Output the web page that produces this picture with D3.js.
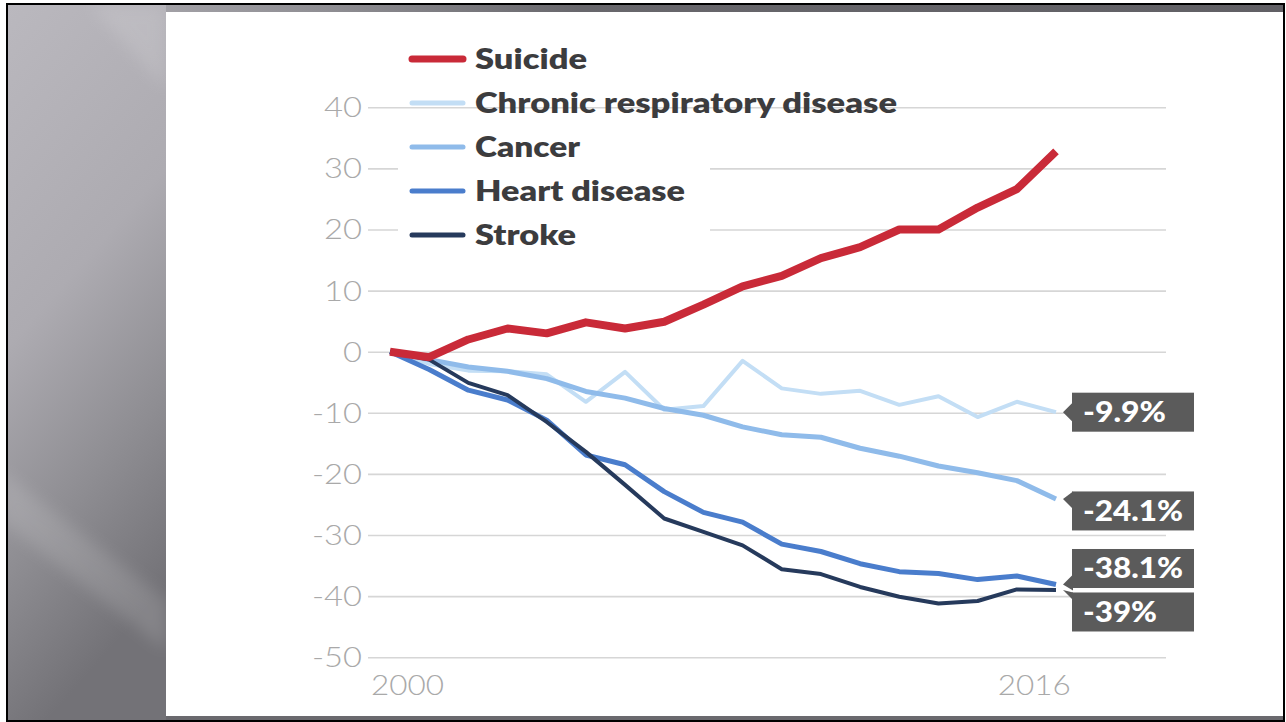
<!DOCTYPE html>
<html>
<head>
<meta charset="utf-8">
<script src="https://cdn.jsdelivr.net/npm/d3@7"></script>
<style>
  html, body { margin: 0; padding: 0; background: #ffffff; }
  svg { display: block; }
</style>
</head>
<body>
<svg id="chart" width="1286" height="722"></svg>
<script>
// Percent change in age-adjusted death rates since 2000
const years = [2000, 2001, 2002, 2003, 2004, 2005, 2006, 2007, 2008,
               2009, 2010, 2011, 2012, 2013, 2014, 2015, 2016, 2017];

const suicide     = [0, -0.9, 2.0, 3.8, 3.0, 4.8, 3.8, 4.9, 7.7, 10.7, 12.4, 15.3, 17.1, 20.0, 20.0, 23.6, 26.6, 32.8];
const respiratory = [0, -2.0, -3.1, -3.2, -3.7, -8.2, -3.3, -9.5, -8.9, -1.5, -6.0, -6.9, -6.4, -8.7, -7.3, -10.7, -8.2, -9.9];
const cancer      = [0, -1.3, -2.5, -3.2, -4.4, -6.5, -7.6, -9.3, -10.4, -12.3, -13.6, -14.0, -15.8, -17.1, -18.7, -19.8, -21.1, -24.1];
const heart       = [0, -2.9, -6.3, -7.9, -11.2, -16.9, -18.5, -22.9, -26.3, -27.9, -31.5, -32.7, -34.7, -36.0, -36.3, -37.3, -36.7, -38.1];
const stroke      = [0, -1.3, -5.1, -7.1, -11.5, -16.4, -21.8, -27.3, -29.5, -31.7, -35.6, -36.4, -38.5, -40.1, -41.2, -40.8, -38.9, -39.0];

const seriesNames = ["Suicide", "Chronic respiratory disease", "Cancer", "Heart disease", "Stroke"];
const yTicks = [40, 30, 20, 10, 0, -10, -20, -30, -40, -50];
const xTicks = [2000, 2016];
const endLabels = ["-9.9%", "-24.1%", "-38.1%", "-39%"];

const series = [
  { name: seriesNames[1], values: respiratory, color: "#c3def5", width: 4 },
  { name: seriesNames[2], values: cancer,      color: "#8fbbea", width: 5 },
  { name: seriesNames[3], values: heart,       color: "#4a7dcc", width: 5 },
  { name: seriesNames[4], values: stroke,      color: "#263a5c", width: 4 },
  { name: seriesNames[0], values: suicide,     color: "#c92a38", width: 8 }
];

const svg = d3.select("#chart");
const defs = svg.append("defs");

// ---- slide frame ----
const sideGrad = defs.append("linearGradient").attr("id", "sideGrad")
  .attr("x1", 0).attr("y1", 0).attr("x2", 0.25).attr("y2", 1);
sideGrad.append("stop").attr("offset", "0%").attr("stop-color", "#bab8be");
sideGrad.append("stop").attr("offset", "45%").attr("stop-color", "#adabb1");
sideGrad.append("stop").attr("offset", "75%").attr("stop-color", "#8e8d92");
sideGrad.append("stop").attr("offset", "100%").attr("stop-color", "#737277");

const topGrad = defs.append("linearGradient").attr("id", "topGrad")
  .attr("x1", 0).attr("y1", 0).attr("x2", 1).attr("y2", 0);
topGrad.append("stop").attr("offset", "0%").attr("stop-color", "#b4b2b8");
topGrad.append("stop").attr("offset", "25%").attr("stop-color", "#8f8e93");
topGrad.append("stop").attr("offset", "45%").attr("stop-color", "#68676c");
topGrad.append("stop").attr("offset", "100%").attr("stop-color", "#616065");

defs.append("filter").attr("id", "soft")
  .append("feGaussianBlur").attr("stdDeviation", 8);

svg.append("rect").attr("x", 6).attr("y", 3).attr("width", 1279).attr("height", 719).attr("fill", "#000");
svg.append("rect").attr("x", 8).attr("y", 5).attr("width", 1275).attr("height", 715).attr("fill", "url(#topGrad)");
svg.append("rect").attr("x", 8).attr("y", 716).attr("width", 1275).attr("height", 4).attr("fill", "#6a696e");

const side = svg.append("g");
side.append("rect").attr("x", 8).attr("y", 5).attr("width", 158).attr("height", 715).attr("fill", "url(#sideGrad)");
const sideClip = defs.append("clipPath").attr("id", "sideClip");
sideClip.append("rect").attr("x", 8).attr("y", 5).attr("width", 158).attr("height", 715);
const sheen = side.append("g").attr("clip-path", "url(#sideClip)");
sheen.append("path").attr("d", "M0,470 L166,600 L166,650 L0,520 Z")
  .attr("fill", "#ffffff").attr("opacity", 0.13).attr("filter", "url(#soft)");
sheen.append("path").attr("d", "M90,5 L166,5 L166,90 Z")
  .attr("fill", "#ffffff").attr("opacity", 0.12).attr("filter", "url(#soft)");

svg.append("rect").attr("x", 166).attr("y", 12).attr("width", 1117).attr("height", 704).attr("fill", "#ffffff");

// ---- scales ----
const x = d3.scaleLinear().domain([2000, 2017]).range([390, 1056]);
const y = d3.scaleLinear().domain([-50, 40]).range([657.2, 107.3]);

const gridLeft = 368, gridRight = 1166;

// widths of the light axis numerals (wide geometric face)
const numeralWidth = s => s.replace("-", "").length * 19 + (s.startsWith("-") ? 12 : 0);

// y axis with full-width gridlines
const yAxis = svg.append("g")
  .attr("transform", `translate(${gridLeft},0)`)
  .call(d3.axisLeft(y).tickValues(yTicks).tickSize(-(gridRight - gridLeft)).tickPadding(6)
        .tickFormat(d => String(d)));
yAxis.select(".domain").remove();
yAxis.selectAll(".tick line").attr("stroke", "#d6d6d6").attr("stroke-width", 1.6);
yAxis.selectAll(".tick text")
  .attr("fill", "#a9a9a9")
  .attr("font-family", "Lato, 'Open Sans', sans-serif")
  .attr("font-weight", 300)
  .attr("font-size", 27)
  .attr("dy", "0.35em")
  .attr("textLength", d => numeralWidth(String(d)))
  .attr("lengthAdjust", "spacingAndGlyphs");

// x axis labels
const xAxis = svg.append("g")
  .attr("transform", `translate(0,${y(-50)})`)
  .call(d3.axisBottom(x).tickValues(xTicks).tickSize(0).tickPadding(19).tickFormat(d => String(d)));
xAxis.select(".domain").remove();
xAxis.selectAll(".tick text")
  .attr("fill", "#a9a9a9")
  .attr("font-family", "Lato, 'Open Sans', sans-serif")
  .attr("font-weight", 300)
  .attr("font-size", 27)
  .attr("dx", 17)
  .attr("textLength", 73)
  .attr("lengthAdjust", "spacingAndGlyphs");

// legend backdrop hides gridlines behind the middle rows
svg.append("rect").attr("x", 398).attr("y", 124).attr("width", 312).attr("height", 120).attr("fill", "#ffffff");

// ---- lines ----
const line = d3.line()
  .x((d, i) => x(years[i]))
  .y(d => y(d));

svg.append("g").selectAll("path")
  .data(series)
  .join("path")
  .attr("d", d => line(d.values))
  .attr("fill", "none")
  .attr("stroke", d => d.color)
  .attr("stroke-width", d => d.width)
  .attr("stroke-linejoin", "round")
  .attr("stroke-linecap", "butt");

// ---- legend ----
const legendOrder = [4, 0, 1, 2, 3]; // Suicide first, then the rest
const legendWidths = [112, 422, 105, 210, 101];
const legend = svg.append("g");
legendOrder.forEach((si, row) => {
  const s = series[si];
  const cy = 59 + row * 44;
  legend.append("line")
    .attr("x1", 412).attr("x2", 463).attr("y1", cy).attr("y2", cy)
    .attr("stroke", s.color).attr("stroke-width", si === 4 ? 7 : 5)
    .attr("stroke-linecap", "round");
  legend.append("text")
    .attr("x", 475).attr("y", cy + 10)
    .attr("fill", "#3c3c3e")
    .attr("font-family", "Lato, 'Open Sans', sans-serif")
    .attr("font-weight", 800)
    .attr("font-size", 28)
    .attr("textLength", legendWidths[row])
    .attr("lengthAdjust", "spacingAndGlyphs")
    .text(s.name);
});

// ---- end-value callouts ----
const boxX = 1072, boxW = 122, boxH = 39, tipX = 1063;
const boxShift = [0, 12, -16, 22];
const labelWidths = [83, 100, 100, 74];
const callouts = svg.append("g");
series.slice(0, 4).forEach((s, i) => {
  const vy = y(s.values[s.values.length - 1]);
  const top = vy - boxH / 2 + boxShift[i];
  const bottom = top + boxH;
  const pTop = Math.max(top, vy - 10);
  const pBot = Math.min(bottom, vy + 10);
  callouts.append("path")
    .attr("d", `M${boxX + 1},${pTop} L${tipX},${vy} L${boxX + 1},${Math.max(pBot, vy + 6)} Z`)
    .attr("fill", "#5b5b5b");
  callouts.append("rect")
    .attr("x", boxX).attr("y", top).attr("width", boxW).attr("height", boxH)
    .attr("fill", "#5b5b5b");
  callouts.append("text")
    .attr("x", boxX + 11).attr("y", top + boxH / 2 + 10)
    .attr("fill", "#ffffff")
    .attr("font-family", "Lato, 'Open Sans', sans-serif")
    .attr("font-weight", 900)
    .attr("font-size", 29)
    .attr("textLength", labelWidths[i])
    .attr("lengthAdjust", "spacingAndGlyphs")
    .text(endLabels[i]);
});
</script>
</body>
</html>
